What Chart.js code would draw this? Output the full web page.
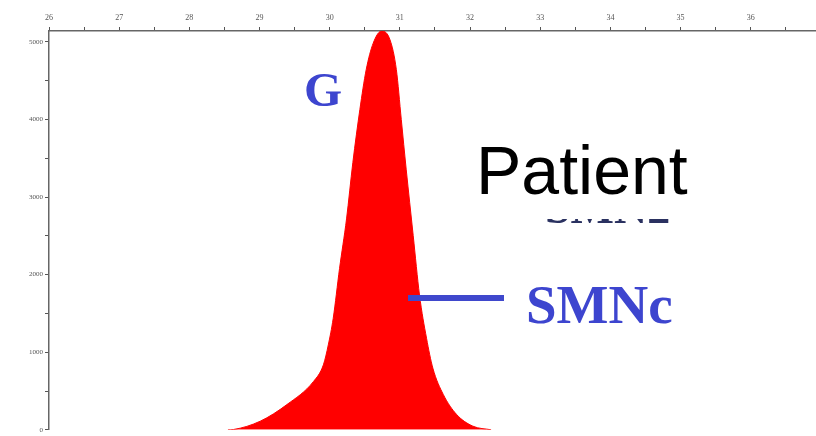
<!DOCTYPE html>
<html lang="en">
<head>
    <meta charset="UTF-8">
    <title>Patient SMNc peak</title>
    <script src="https://cdn.jsdelivr.net/npm/chart.js"></script>
    <style>
        html, body { margin: 0; padding: 0; background: #fff; }
        #wrap { width: 816px; height: 436px; position: relative; }
    </style>
</head>
<body>
    <div id="wrap"><canvas id="peak" width="816" height="436"></canvas></div>

    <script>
        // peak trace
        const sizes = [28.55, 28.63, 29.01, 29.39, 29.77, 29.91, 29.98, 30.05, 30.14, 30.24, 30.33, 30.43, 30.52, 30.62, 30.74,
                       30.86, 30.95, 31.02, 31.09, 31.19, 31.28, 31.38, 31.47, 31.62, 31.81, 32.04, 32.3];
        const signal = [0, 4, 111, 325, 624, 837, 1094, 1436, 2077, 2718, 3445, 4128, 4641, 4983, 5140,
                        5025, 4641, 4000, 3359, 2504, 1735, 1180, 795, 453, 196, 47, 0];
        const xTicks = [26, 27, 28, 29, 30, 31, 32, 33, 34, 35, 36];
        const yTicks = [0, 1000, 2000, 3000, 4000, 5000];

        const points = sizes.map((s, i) => ({ x: s, y: signal[i] }));

        // labels drawn over the plot
        const annotations = {
            id: 'annotations',
            afterDatasetsDraw(chart) {
                const ctx = chart.ctx;
                ctx.save();
                ctx.fillStyle = '#3d45cf';
                ctx.font = 'bold 49px "Liberation Serif", serif';
                ctx.textBaseline = 'alphabetic';
                ctx.fillText('G', 304, 106);

                ctx.fillStyle = '#000';
                ctx.font = '68px "Liberation Sans", Arial, sans-serif';
                ctx.fillText('Patient', 476, 194);

                // half-hidden label under "Patient", only its feet show
                ctx.beginPath();
                ctx.rect(540, 219, 140, 4);
                ctx.clip();
                ctx.fillStyle = '#2a3160';
                ctx.font = 'bold 46px "Liberation Serif", serif';
                ctx.fillText('SMN2', 545, 223);
                ctx.restore();

                ctx.save();
                ctx.strokeStyle = '#3f48cc';
                ctx.lineWidth = 6;
                ctx.beginPath();
                ctx.moveTo(408, 298);
                ctx.lineTo(504, 298);
                ctx.stroke();

                ctx.fillStyle = '#3d45cf';
                ctx.font = 'bold 55px "Liberation Serif", serif';
                ctx.fillText('SMNc', 526, 323);
                ctx.restore();
            }
        };

        new Chart(document.getElementById('peak'), {
            type: 'line',
            data: {
                datasets: [{
                    data: points,
                    borderColor: '#ff0000',
                    backgroundColor: '#ff0000',
                    borderWidth: 1,
                    fill: 'origin',
                    pointRadius: 0,
                    cubicInterpolationMode: 'monotone'
                }]
            },
            options: {
                responsive: false,
                animation: false,
                layout: { padding: { top: 0, right: 0, bottom: 3, left: 0 } },
                plugins: {
                    legend: { display: false },
                    tooltip: { enabled: false }
                },
                scales: {
                    x: {
                        type: 'linear',
                        position: 'top',
                        min: 26,
                        max: 36.93,
                        afterFit(scale) { scale.height = 31; },
                        afterBuildTicks(scale) {
                            const t = [];
                            xTicks.forEach(v => { t.push({ value: v }); t.push({ value: v + 0.5 }); });
                            scale.ticks = t.filter(k => k.value <= 36.93);
                        },
                        ticks: {
                            autoSkip: false,
                            maxRotation: 0,
                            color: '#555',
                            font: { size: 8, family: 'Liberation Serif' },
                            padding: 4,
                            callback: v => Number.isInteger(v) ? String(v) : ''
                        },
                        grid: { drawOnChartArea: false, tickLength: 4, color: '#555', lineWidth: 1 },
                        border: { color: '#666', width: 1.5 }
                    },
                    y: {
                        min: 0,
                        max: 5140,
                        afterFit(scale) { scale.width = 49; },
                        afterBuildTicks(scale) {
                            const t = [];
                            yTicks.forEach(v => { t.push({ value: v }); if (v < 5000) t.push({ value: v + 500 }); });
                            scale.ticks = t;
                        },
                        ticks: {
                            autoSkip: false,
                            color: '#555',
                            font: { size: 7, family: 'Liberation Serif' },
                            padding: 2,
                            callback: v => v % 1000 === 0 ? String(v) : ''
                        },
                        grid: { drawOnChartArea: false, tickLength: 4, color: '#555', lineWidth: 1 },
                        border: { color: '#666', width: 1.5 }
                    }
                }
            },
            plugins: [annotations]
        });
    </script>
</body>
</html>
